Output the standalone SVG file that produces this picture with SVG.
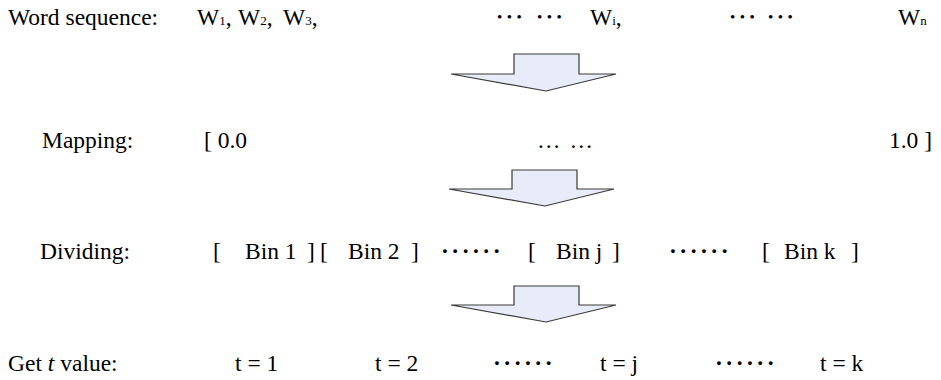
<svg xmlns="http://www.w3.org/2000/svg" width="941" height="380" viewBox="0 0 941 380">
<style>
text{font-family:"Liberation Serif","Times New Roman",serif;font-size:23.5px;fill:#000}
.sub{font-size:13px}
.dots1{font-size:15px;letter-spacing:4.5px}
.dots6{font-weight:bold;letter-spacing:2.5px}
.arrow{fill:#E8ECF8;stroke:#3a3a3a;stroke-width:1.2;stroke-linejoin:miter}
</style>
<rect width="941" height="380" fill="#fff"/>
<g id="row1">
<text x="8" y="25">Word sequence:</text>
<text x="197" y="25">W<tspan class="sub">1</tspan>,</text>
<text x="238" y="25">W<tspan class="sub">2</tspan>,</text>
<text x="283" y="25">W<tspan class="sub">3</tspan>,</text>
<text class="dots1" x="497" y="22">•••</text>
<text class="dots1" x="537" y="22">•••</text>
<text x="590" y="25">W<tspan class="sub">i</tspan>,</text>
<text class="dots1" x="730" y="22">•••</text>
<text class="dots1" x="768" y="22">•••</text>
<text x="898" y="25">W<tspan class="sub">n</tspan></text>
</g>
<g id="row2">
<text x="42" y="148">Mapping:</text>
<text x="204" y="148">[ 0.0</text>
<text x="537" y="148" textLength="56" lengthAdjust="spacing">… …</text>
<text x="932" y="148" text-anchor="end">1.0 ]</text>
</g>
<g id="row3">
<text x="40" y="259">Dividing:</text>
<text x="213" y="259">[</text><text x="245" y="259">Bin 1</text><text x="307" y="259">]</text>
<text x="320" y="259">[</text><text x="348" y="259">Bin 2</text><text x="411" y="259">]</text>
<text class="dots6" x="441" y="259">······</text>
<text x="528" y="259">[</text><text x="556" y="259">Bin j</text><text x="612" y="259">]</text>
<text class="dots6" x="669" y="259">······</text>
<text x="762" y="259">[</text><text x="784" y="259">Bin k</text><text x="851" y="259">]</text>
</g>
<g id="row4">
<text x="8" y="371">Get <tspan font-style="italic">t</tspan> value:</text>
<text x="235" y="371">t = 1</text>
<text x="375" y="371">t = 2</text>
<text class="dots6" x="493" y="371">······</text>
<text x="600" y="371">t = j</text>
<text class="dots6" x="715" y="371">······</text>
<text x="820" y="371">t = k</text>
</g>
<g id="connectors">
<path id="arrow1" class="arrow" d="M514,54 H579 V74 H616 L546,91 L451,74 H514 Z"/>
<path id="arrow2" class="arrow" d="M512,170 H577 V189 H614 L545,206 L449,189 H512 Z"/>
<path id="arrow3" class="arrow" d="M514,286 H579 V305 H616 L546,322 L451,305 H514 Z"/>
</g>
</svg>
